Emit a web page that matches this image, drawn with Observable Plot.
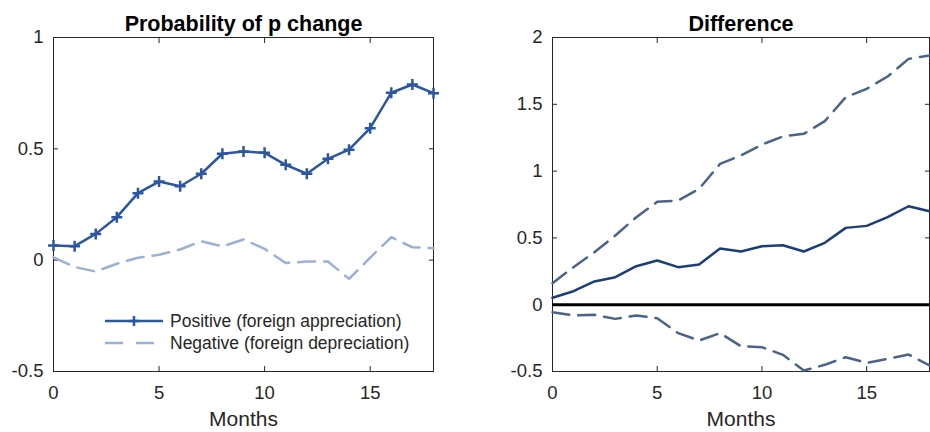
<!DOCTYPE html>
<html>
<head>
<meta charset="utf-8">
<script src="https://cdn.jsdelivr.net/npm/d3@7"></script>
<script src="https://cdn.jsdelivr.net/npm/@observablehq/plot@0.6"></script>
<style>
  body { margin: 0; background: white; }
  #wrap { position: relative; width: 930px; height: 432px; display: flex; font-family: "Liberation Sans", Arial, sans-serif; }
  #legend { position: absolute; left: 105px; top: 310px; font-size: 17.5px; color: #262626; line-height: 22px; }
  #legend .row { display: flex; align-items: center; height: 22px; }
  #legend svg { margin-right: 7px; overflow: visible; }
</style>
</head>
<body>
<div id="wrap">
  <div id="left"></div>
  <div id="right"></div>
  <div id="legend"></div>
</div>
<script>
// ---- data ----
const months = [0,1,2,3,4,5,6,7,8,9,10,11,12,13,14,15,16,17,18];
const probPositive = [0.066,0.063,0.118,0.193,0.301,0.353,0.332,0.388,0.478,0.488,0.482,0.428,0.388,0.455,0.496,0.593,0.752,0.789,0.750];
const probNegative = [0.013,-0.031,-0.051,-0.016,0.011,0.024,0.048,0.085,0.062,0.093,0.051,-0.013,-0.006,-0.006,-0.084,0.011,0.103,0.058,0.054];
const diffMean  = [0.052,0.101,0.174,0.206,0.288,0.331,0.281,0.301,0.421,0.398,0.438,0.445,0.398,0.463,0.575,0.590,0.655,0.737,0.700];
const diffUpper = [0.161,0.281,0.393,0.518,0.655,0.770,0.780,0.867,1.054,1.117,1.199,1.259,1.279,1.374,1.553,1.616,1.708,1.840,1.865];
const diffLower = [-0.056,-0.081,-0.076,-0.106,-0.081,-0.101,-0.213,-0.268,-0.213,-0.311,-0.318,-0.375,-0.493,-0.450,-0.393,-0.435,-0.405,-0.373,-0.455];
const xTicks = [0,5,10,15];
const yTicksLeft = [-0.5,0,0.5,1];
const yTicksRight = [-0.5,0,0.5,1,1.5,2];
const legendLabels = ["Positive (foreign appreciation)", "Negative (foreign depreciation)"];

const cPos = "#2b56a2", cNeg = "#9cb0d5", cMean = "#1b3e7b", cBand = "#4a6389", axisColor = "#262626";

const plusSymbol = {
  draw(ctx, size) {
    const r = Math.sqrt(size / Math.PI);
    ctx.moveTo(-r, 0); ctx.lineTo(r, 0);
    ctx.moveTo(0, -r); ctx.lineTo(0, r);
  }
};

const leftData = months.map((m, i) => ({m, pos: probPositive[i], neg: probNegative[i]}));
const rightData = months.map((m, i) => ({m, mean: diffMean[i], up: diffUpper[i], lo: diffLower[i]}));

function axes(yTicks) {
  const blank = () => "";
  return [
    Plot.axisX({anchor: "bottom", ticks: xTicks, tickSize: -5, tickFormat: blank, label: null}),
    Plot.axisX({anchor: "top", ticks: xTicks, tickSize: -5, tickFormat: blank, label: null}),
    Plot.axisY({anchor: "left", ticks: yTicks, tickSize: -5, tickFormat: blank, label: null}),
    Plot.axisY({anchor: "right", ticks: yTicks, tickSize: -5, tickFormat: blank, label: null}),
    Plot.text(xTicks, {x: d => d, frameAnchor: "bottom", lineAnchor: "middle", dy: 22, fontSize: 18.5, fill: axisColor}),
    Plot.text(yTicks, {y: d => d, frameAnchor: "left", lineAnchor: "middle", dx: -10, textAnchor: "end", fontSize: 18.5, fill: axisColor, text: d => String(d)}),
    Plot.frame({stroke: axisColor})
  ];
}

const commonStyle = {fontFamily: '"Liberation Sans", Arial, sans-serif', fontSize: "18px", color: axisColor, background: "white", overflow: "visible"};

const left = Plot.plot({
  width: 465, height: 432,
  marginLeft: 53, marginRight: 32, marginTop: 37, marginBottom: 61,
  style: commonStyle,
  x: {domain: [0, 18]},
  y: {domain: [-0.5, 1]},
  marks: [
    ...axes(yTicksLeft),
    Plot.line(leftData, {x: "m", y: "neg", stroke: cNeg, strokeWidth: 2.5, strokeDasharray: "17,9"}),
    Plot.line(leftData, {x: "m", y: "pos", stroke: cPos, strokeWidth: 2.5}),
    Plot.dot(leftData, {x: "m", y: "pos", symbol: plusSymbol, r: 5.5, fill: "none", stroke: cPos, strokeWidth: 2.5}),
    Plot.text(["Probability of p change"], {frameAnchor: "top", lineAnchor: "middle", dy: -13, fontWeight: "bold", fontSize: 21.5, fill: "black"}),
    Plot.text(["Months"], {frameAnchor: "bottom", lineAnchor: "middle", dy: 48, fontSize: 21, fill: axisColor})
  ]
});

const right = Plot.plot({
  width: 465, height: 432,
  marginLeft: 87, marginRight: 1, marginTop: 37, marginBottom: 61,
  style: commonStyle,
  x: {domain: [0, 18]},
  y: {domain: [-0.5, 2]},
  marks: [
    ...axes(yTicksRight),
    Plot.ruleY([0], {stroke: "black", strokeWidth: 3}),
    Plot.line(rightData, {x: "m", y: "up", stroke: cBand, strokeWidth: 2.5, strokeDasharray: "17,9"}),
    Plot.line(rightData, {x: "m", y: "lo", stroke: cBand, strokeWidth: 2.5, strokeDasharray: "17,9"}),
    Plot.line(rightData, {x: "m", y: "mean", stroke: cMean, strokeWidth: 2.5}),
    Plot.text(["Difference"], {frameAnchor: "top", lineAnchor: "middle", dy: -13, fontWeight: "bold", fontSize: 21.5, fill: "black"}),
    Plot.text(["Months"], {frameAnchor: "bottom", lineAnchor: "middle", dy: 48, fontSize: 21, fill: axisColor})
  ]
});

document.getElementById("left").appendChild(left);
document.getElementById("right").appendChild(right);

// legend
const legend = document.getElementById("legend");
legendLabels.forEach((label, i) => {
  const row = document.createElement("div");
  row.className = "row";
  const svg = d3.create("svg").attr("width", 58).attr("height", 22);
  const line = svg.append("line").attr("x1", 0).attr("x2", 58).attr("y1", 11).attr("y2", 11)
    .attr("stroke", i === 0 ? cPos : cNeg).attr("stroke-width", 2.5);
  if (i === 0) {
    svg.append("path").attr("d", "M24,11h10M29,6v10").attr("stroke", cPos).attr("stroke-width", 2.5);
  } else {
    line.attr("stroke-dasharray", "18,13");
  }
  row.appendChild(svg.node());
  const span = document.createElement("span");
  span.textContent = label;
  row.appendChild(span);
  legend.appendChild(row);
});
</script>
</body>
</html>
